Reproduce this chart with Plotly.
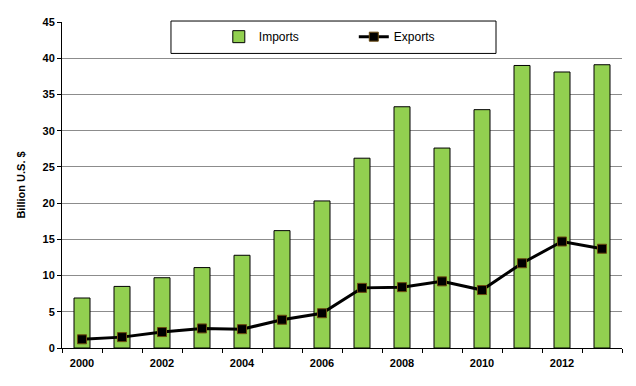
import plotly.graph_objects as go

years = list(range(2000, 2014))
imports = [6.9, 8.5, 9.7, 11.1, 12.8, 16.2, 20.3, 26.2, 33.3, 27.6, 32.9, 39.0, 38.1, 39.1]
exports = [1.2, 1.5, 2.2, 2.7, 2.6, 3.9, 4.8, 8.3, 8.4, 9.2, 8.0, 11.7, 14.7, 13.7]
tick_years = [2000, 2002, 2004, 2006, 2008, 2010, 2012]

fig = go.Figure()
fig.add_trace(go.Bar(
    x=years, y=imports, name="Imports", width=0.4,
    marker=dict(color="#92D050", line=dict(color="black", width=1)),
))
fig.add_trace(go.Scatter(
    x=years, y=exports, name="Exports", mode="lines+markers",
    line=dict(color="black", width=3),
    marker=dict(symbol="square", size=9, color="black", line=dict(color="#6b4a10", width=1)),
))

fig.add_shape(type="rect", xref="paper", yref="paper",
              x0=0.1946, x1=0.775, y0=0.9036, y1=1.003,
              line=dict(color="black", width=1), fillcolor="white", layer="above")

fig.update_layout(
    width=628, height=378,
    margin=dict(l=54, r=14, t=8, b=38),
    plot_bgcolor="white", paper_bgcolor="white",
    font=dict(family="Liberation Sans, Arial, sans-serif", color="black"),
    bargap=0.6,
    showlegend=True,
    legend=dict(orientation="h", x=0.28, y=0.955, xanchor="left", yanchor="middle",
                bgcolor="rgba(0,0,0,0)", font=dict(size=12), entrywidth=90,
                traceorder="normal"),
    xaxis=dict(range=[1999.5, 2013.5], tickvals=tick_years,
               ticktext=[str(y) for y in tick_years], ticks="", ticklabelstandoff=5,
               showgrid=False, zeroline=False, showline=True, linecolor="black", linewidth=1,
               tickfont=dict(size=11, family="Liberation Sans, Arial, sans-serif", weight="bold"),
               minor=dict(ticks="outside", tick0=1999.5, dtick=1, ticklen=4, tickcolor="black", showgrid=False)),
    yaxis=dict(range=[0, 45], dtick=5, ticks="outside", ticklen=4, tickcolor="black",
               showgrid=True, gridcolor="#8c8c8c", gridwidth=1, zeroline=False,
               showline=True, linecolor="black", linewidth=1,
               tickfont=dict(size=11, weight="bold"),
               title=dict(text="Billion U.S. $", font=dict(size=11, weight="bold"), standoff=14)),
)

fig.write_html("out.html")
